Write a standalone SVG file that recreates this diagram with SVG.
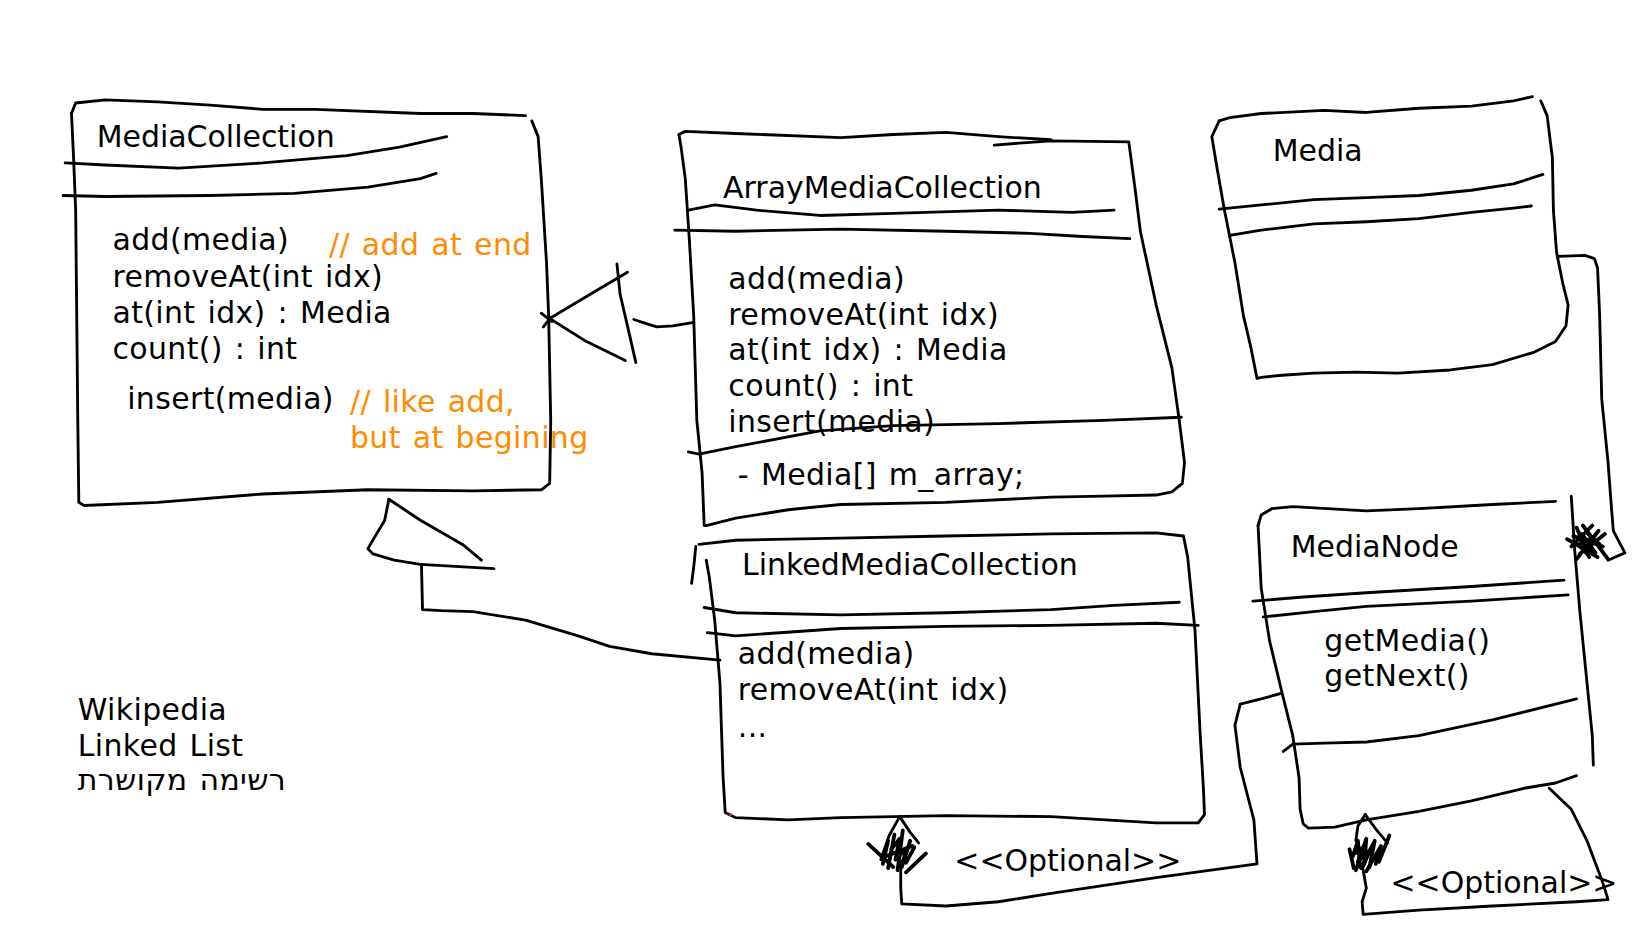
<svg xmlns="http://www.w3.org/2000/svg" width="1648" height="927" viewBox="0 0 1648 927">
<style>
.s{fill:none;stroke:#000;stroke-width:2.7;stroke-linecap:round;stroke-linejoin:round}
.k{fill:none;stroke:#000;stroke-width:3.6;stroke-linecap:round;stroke-linejoin:round}
.t{font-family:"DejaVu Sans",Verdana,sans-serif;font-size:28.5px;fill:#000}
.m{letter-spacing:0.35px;word-spacing:2px}
.o{fill:#FF8C00}
</style>
<rect width="1648" height="927" fill="#fff"/>
<g transform="scale(1.05102)">
<g id="MediaCollection">
<polyline class="s" points="68,108 72,98 100,95 150,97 200,100 250,104 300,104 400,108 450,108 500,110"/>
<polyline class="s" points="506,115 512,130 515,170 520,250 522,300 524,400 523,460 515,466 450,467 350,466 250,470 150,478 80,481 75,478 74,400 73,300 72,200 70,150 68,108"/>
<polyline class="s" points="62,155 100,157 170,160 250,155 330,148 380,140 425,130"/>
<polyline class="s" points="60,186 100,187 200,186 280,184 350,178 400,170 415,165"/>
<text class="t" x="92" y="140">MediaCollection</text>
<text class="t m" x="107" y="238">add(media)</text>
<text class="t m" x="107" y="273">removeAt(int idx)</text>
<text class="t m" x="107" y="307">at(int idx) : Media</text>
<text class="t m" x="107" y="342">count() : int</text>
<text class="t m" x="121" y="389">insert(media)</text>
<text class="t m o" x="313" y="243">// add at end</text>
<text class="t m o" x="333" y="392">// like add,</text>
<text class="t m o" x="333" y="426">but at begining</text>
</g>
<g id="ArrayMediaCollection">
<polyline class="s" points="646,128 652,125 700,127 800,131 850,128 900,126 950,130 1000,133"/>
<polyline class="s" points="946,138 1000,134 1074,135 1080,180 1085,220 1100,290 1115,350 1122,400 1127,440 1125,460 1115,468 1100,471 1050,472 1000,473 900,478 800,480 750,485 700,493 672,500 670,500 668,450 663,400 660,300 656,230 652,170 648,140 646,128"/>
<polyline class="s" points="655,200 680,195 720,200 780,205 850,203 950,200 1020,202 1060,200"/>
<polyline class="s" points="642,219 700,220 800,218 900,220 980,222 1030,225 1075,227"/>
<polyline class="s" points="655,430 665,432 700,425 780,410 850,405 950,403 1050,400 1124,397"/>
<text class="t" x="688" y="188">ArrayMediaCollection</text>
<text class="t m" x="693" y="275">add(media)</text>
<text class="t m" x="693" y="309">removeAt(int idx)</text>
<text class="t m" x="693" y="343">at(int idx) : Media</text>
<text class="t m" x="693" y="377">count() : int</text>
<text class="t m" x="693" y="411">insert(media)</text>
<text class="t m" x="702" y="461">- Media[] m_array;</text>
</g>
<g id="Media">
<polyline class="s" points="1160,115 1170,112 1200,108 1260,105 1300,107 1350,103 1400,101 1440,96 1458,92"/>
<polyline class="s" points="1466,96 1472,110 1477,150 1478,200 1481,240 1487,270 1492,290 1490,310 1480,325 1460,335 1420,347 1380,352 1330,355 1290,354 1250,355 1220,357 1200,359 1196,360 1190,330 1183,300 1175,250 1165,200 1158,160 1153,130 1160,115"/>
<polyline class="s" points="1160,199 1200,195 1250,190 1300,188 1350,186 1400,181 1440,175 1468,166"/>
<polyline class="s" points="1170,224 1200,219 1250,213 1300,211 1350,208 1400,202 1440,198 1457,196"/>
<text class="t" x="1211" y="153">Media</text>
</g>
<g id="LinkedMediaCollection">
<polyline class="s" points="662,520 660,540 658,555"/>
<polyline class="s" points="665,518 700,514 800,512 900,510 1000,508 1100,507 1126,510 1130,530 1137,600 1142,700 1145,750 1146,775 1140,783 1100,783 1000,777 900,776 800,778 750,780 700,778 690,773 688,740 685,650 680,590 675,550 672,533"/>
<polyline class="s" points="670,578 700,583 800,585 900,583 1000,580 1060,576 1122,573"/>
<polyline class="s" points="673,602 700,605 800,598 900,596 1000,595 1100,593 1140,595"/>
<circle cx="695" cy="775" r="1.5" fill="#e0208f"/>
<text class="t" x="706" y="547">LinkedMediaCollection</text>
<text class="t m" x="702" y="632">add(media)</text>
<text class="t m" x="702" y="666">removeAt(int idx)</text>
<text class="t m" x="702" y="701">...</text>
</g>
<g id="MediaNode">
<polyline class="s" points="1197,500 1200,490 1210,484 1230,482 1300,486 1350,484 1420,480 1480,477"/>
<polyline class="s" points="1495,472 1498,520 1503,580 1509,640 1515,700 1516,728"/>
<polyline class="s" points="1500,738 1480,745 1450,750 1400,762 1350,772 1300,780 1270,787 1245,788 1240,784 1237,770 1236,740 1230,700 1220,660 1208,610 1200,560 1197,500"/>
<polyline class="s" points="1192,572 1240,568 1300,564 1400,558 1488,552"/>
<polyline class="s" points="1202,587 1250,582 1300,577 1400,572 1492,566"/>
<polyline class="s" points="1221,715 1230,708 1260,707 1300,706 1350,700 1420,685 1500,665"/>
<text class="t" x="1228" y="530">MediaNode</text>
<text class="t m" x="1260" y="619">getMedia()</text>
<text class="t m" x="1260" y="653">getNext()</text>
</g>
<g id="Note">
<text class="t m" x="74" y="685">Wikipedia</text>
<text class="t m" x="74" y="719">Linked List</text>
<text class="t m" x="74" y="752">רשימה מקושרת</text>
</g>
<g id="connectors">
<polyline class="s" points="523,303 560,281 597,259"/>
<polyline class="s" points="523,303 558,325 595,343"/>
<polyline class="s" points="515,298 525,306"/>
<polyline class="s" points="517,311 524,302"/>
<polyline class="s" points="587,251 590,280 597,310 605,345"/>
<polyline class="s" points="603,304 615,308 625,311 640,310 659,307"/>
<polyline class="s" points="370,475 366,495 350,522 355,527 375,533 400,537 470,541"/>
<polyline class="s" points="370,475 400,495 440,518 458,533"/>
<polyline class="s" points="401,537 402,580 420,581 450,582 500,590 550,605 580,615 620,622 685,628"/>
<polyline class="s" points="1483,244 1508,243 1517,246 1520,255 1522,300 1524,380 1530,440 1533,480 1535,505 1546,526 1530,533"/>
<g class="k">
<polyline points="1491,513 1520,530"/>
<polyline points="1500,502 1512,530"/>
<polyline points="1495,520 1515,500"/>
<polyline points="1503,527 1527,508"/>
<polyline points="1497,510 1525,520"/>
<polyline points="1506,500 1530,532"/>
<polyline points="1500,532 1521,505"/>
<polyline points="1505,508 1518,526 1508,522 1514,512 1502,518 1511,528"/>
<polyline points="1509,506 1522,518 1504,514"/>
</g>
<polyline class="s" points="1299,775 1292,786 1290,800"/>
<polyline class="s" points="1299,775 1310,790 1320,802"/>
<g class="k">
<polyline points="1287,815 1292,800 1294,825"/>
<polyline points="1290,828 1300,798 1298,822"/>
<polyline points="1295,826 1308,800 1303,825"/>
<polyline points="1300,829 1314,805 1309,822"/>
<polyline points="1284,808 1288,826"/>
<polyline points="1312,820 1322,795"/>
<polyline points="1289,812 1297,806 1292,820 1304,808 1296,826"/>
</g>
<polyline class="s" points="1297,828 1300,845 1296,858 1297,870 1350,866 1420,862 1500,858 1530,856 1525,840 1510,800 1495,770 1474,750"/>
<polyline class="s" points="856,777 846,795 838,818"/>
<polyline class="s" points="856,777 866,792 874,802"/>
<g class="k">
<polyline points="826,803 850,825"/>
<polyline points="881,812 862,830"/>
<polyline points="845,800 840,822"/>
<polyline points="851,794 845,826"/>
<polyline points="859,790 854,828"/>
<polyline points="866,800 858,825"/>
<polyline points="870,806 862,821"/>
<polyline points="842,815 868,805"/>
<polyline points="848,808 856,798 852,818 864,806 858,822"/>
</g>
<polyline class="s" points="857,820 857,845 858,860 900,862 950,858 1000,850 1100,835 1196,822 1193,780 1180,730 1175,690 1180,670 1200,665 1218,660"/>
<text class="t" x="908" y="829">&lt;&lt;Optional&gt;&gt;</text>
<text class="t" x="1323" y="850">&lt;&lt;Optional&gt;&gt;</text>
</g>
</g>
</svg>
